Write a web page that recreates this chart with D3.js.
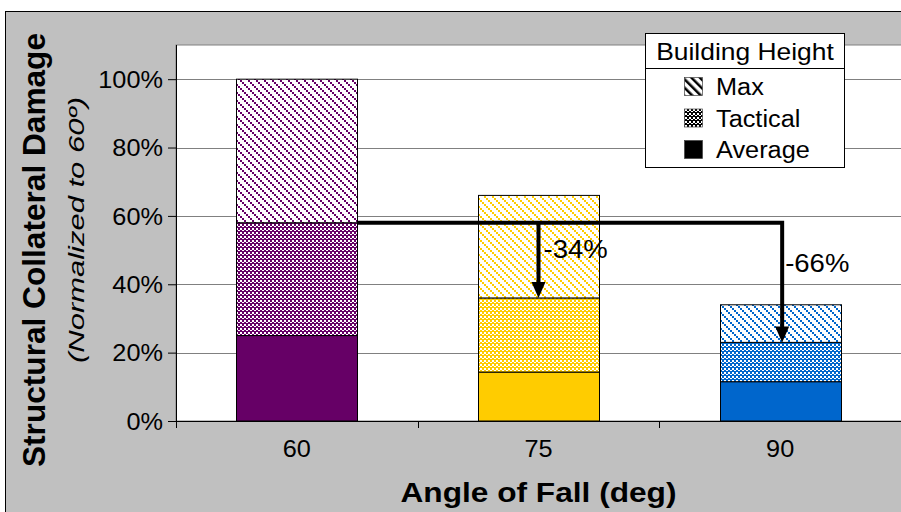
<!DOCTYPE html>
<html>
<head>
<meta charset="utf-8">
<script src="https://cdn.jsdelivr.net/npm/d3@7"></script>
<style>
  html, body { margin: 0; padding: 0; background: #ffffff; }
  svg { display: block; }
  text { font-family: "Liberation Sans", Arial, sans-serif; fill: #000; }
</style>
</head>
<body>
<svg id="chart" width="901" height="512"></svg>
<script>
// Angle of fall categories and stacked damage shares (% of the 60° total)
const angles = ["60", "75", "90"];
const averageVals = [25, 14.3, 11.5];
const tacticalVals = [33, 21.7, 11.5];
const maxVals = [42, 30, 11];
const seriesNames = ["Average", "Tactical", "Max"];
const legendOrder = ["Max", "Tactical", "Average"];
const barColors = ["#660066", "#ffcc00", "#0066cc"];
const yTicks = [0, 20, 40, 60, 80, 100];

const svg = d3.select("#chart");
const W = 901, H = 512;
const plot = { left: 176, right: 901, top: 45, bottom: 421 };

const x = d3.scaleBand().domain(angles)
  .range([plot.left, plot.right]).paddingInner(0.5).paddingOuter(0.25);
const y = d3.scaleLinear().domain([0, 110]).range([plot.bottom, plot.top]);

const stretch = 1.1; // horizontal text widening
function widen(sel, f) {
  sel.each(function () {
    const len = this.getComputedTextLength();
    d3.select(this).attr("textLength", len * f).attr("lengthAdjust", "spacingAndGlyphs");
  });
}

// ---- fill patterns ----
const defs = svg.append("defs");
function maxPattern(id, color) {
  const p = defs.append("pattern").attr("id", id).attr("patternUnits", "userSpaceOnUse")
    .attr("width", 8).attr("height", 8);
  p.append("rect").attr("width", 8).attr("height", 8).attr("fill", "#fff");
  [0, 2, 4, 6].forEach(k => {
    p.append("rect").attr("x", k).attr("y", k).attr("width", 2).attr("height", 2).attr("fill", color);
  });
  [0, 2, 4, 6].forEach(k => {
    p.append("rect").attr("x", (k + 1) % 8).attr("y", k).attr("width", 1).attr("height", 1).attr("fill", color);
  });
}
function tacticalPattern(id, color) {
  const p = defs.append("pattern").attr("id", id).attr("patternUnits", "userSpaceOnUse")
    .attr("width", 4).attr("height", 4);
  p.append("rect").attr("width", 4).attr("height", 4).attr("fill", color);
  p.append("rect").attr("x", 0).attr("y", 0).attr("width", 2).attr("height", 2).attr("fill", "#fff");
  p.append("rect").attr("x", 2).attr("y", 2).attr("width", 2).attr("height", 1).attr("fill", "#fff");
}
barColors.forEach((c, i) => { maxPattern("max" + i, c); tacticalPattern("tac" + i, c); });
// legend swatches (black)
(function () {
  const p = defs.append("pattern").attr("id", "legMax").attr("patternUnits", "userSpaceOnUse")
    .attr("width", 6).attr("height", 6).attr("patternTransform", "rotate(-45)");
  p.append("rect").attr("width", 6).attr("height", 6).attr("fill", "#fff");
  p.append("rect").attr("x", 0).attr("width", 2.5).attr("height", 6).attr("fill", "#000");
})();
tacticalPattern("legTac", "#000");

function fillFor(series, i) {
  if (series === "Average") return barColors[i];
  if (series === "Tactical") return "url(#tac" + i + ")";
  return "url(#max" + i + ")";
}

// ---- chart frame ----
svg.append("rect").attr("x", 5.5).attr("y", 11.5).attr("width", W + 10).attr("height", H + 10)
  .attr("fill", "#c0c0c0").attr("stroke", "#000").attr("stroke-width", 1);
svg.append("rect").attr("x", plot.left).attr("y", plot.top)
  .attr("width", plot.right - plot.left + 5).attr("height", plot.bottom - plot.top)
  .attr("fill", "#fff").attr("stroke", "#808080").attr("stroke-width", 1);

// gridlines
svg.append("g").selectAll("line").data(yTicks.filter(d => d > 0)).join("line")
  .attr("x1", plot.left).attr("x2", plot.right)
  .attr("y1", d => Math.round(y(d)) + 0.5).attr("y2", d => Math.round(y(d)) + 0.5)
  .attr("stroke", "#808080").attr("stroke-width", 1);

// ---- stacked bars ----
const rows = angles.map((a, i) => ({ angle: a, Average: averageVals[i], Tactical: tacticalVals[i], Max: maxVals[i] }));
const stacked = d3.stack().keys(seriesNames)(rows);
const gBars = svg.append("g");
stacked.forEach(layer => {
  gBars.append("g").selectAll("rect").data(layer).join("rect")
    .attr("x", d => Math.round(x(d.data.angle)) + 0.5)
    .attr("width", Math.round(x.bandwidth()))
    .attr("y", d => y(d[1]))
    .attr("height", d => y(d[0]) - y(d[1]))
    .attr("fill", (d, i) => fillFor(layer.key, i))
    .attr("stroke", "#000").attr("stroke-width", 1);
});

// ---- axes ----
const yAxis = d3.axisLeft(y).tickValues(yTicks).tickSize(8).tickFormat(d => d + "%");
const gy = svg.append("g").attr("transform", `translate(${plot.left},0)`).call(yAxis);
gy.select(".domain").attr("d", `M0.5,${plot.top}V${plot.bottom + 0.5}`).attr("stroke", "#000");
gy.selectAll(".tick line").attr("stroke", "#000");
gy.selectAll(".tick text").attr("x", -13).attr("dy", "0.36em")
  .style("font-size", "23px").style("font-family", "Liberation Sans, Arial, sans-serif").attr("fill", "#000");
widen(gy.selectAll(".tick text"), stretch);

const xAxis = d3.axisBottom(x).tickSize(0).tickPadding(0);
const gx = svg.append("g").attr("transform", `translate(0,${plot.bottom})`).call(xAxis);
gx.select(".domain").attr("d", `M${plot.left},0.5H${plot.right}`).attr("stroke", "#000");
gx.selectAll(".tick text").attr("y", 36).attr("dy", 0)
  .style("font-size", "23px").style("font-family", "Liberation Sans, Arial, sans-serif").attr("fill", "#000");
widen(gx.selectAll(".tick text"), stretch);
// category separators
const step = x.step();
gx.append("g").selectAll("line").data(d3.range(angles.length + 1)).join("line")
  .attr("x1", k => Math.round(plot.left + k * step) + 0.5)
  .attr("x2", k => Math.round(plot.left + k * step) + 0.5)
  .attr("y1", 0).attr("y2", 7).attr("stroke", "#000");

// ---- axis titles ----
svg.append("text").attr("transform", "translate(45,250) rotate(-90)")
  .attr("text-anchor", "middle").style("font-size", "31.5px").style("font-weight", "bold")
  .attr("textLength", 434).attr("lengthAdjust", "spacingAndGlyphs")
  .text("Structural Collateral Damage");
svg.append("text").attr("transform", "translate(84,230) rotate(-90)")
  .attr("text-anchor", "middle").style("font-size", "22px").style("font-style", "italic")
  .attr("textLength", 266).attr("lengthAdjust", "spacingAndGlyphs")
  .text("(Normalized to 60º)");
const xt = svg.append("text").attr("x", (plot.left + plot.right) / 2).attr("y", 502)
  .attr("text-anchor", "middle").style("font-size", "28px").style("font-weight", "bold")
  .text("Angle of Fall (deg)");
widen(xt, 1.13);

// ---- reduction arrows (from the 60° Average+Tactical level) ----
const baseTop = averageVals[0] + tacticalVals[0];
const totals = angles.map((a, i) => averageVals[i] + tacticalVals[i] + maxVals[i]);
const targets = [1, 2].map(i => ({
  i, xc: x(angles[i]) + x.bandwidth() / 2,
  tip: averageVals[i] + tacticalVals[i],
  label: "-" + Math.round(totals[0] - totals[i]) + "%"
}));
const arrowG = svg.append("g");
const yBase = y(baseTop);
const xStart = x(angles[0]) + x.bandwidth();
const last = targets[targets.length - 1];
arrowG.append("path")
  .attr("d", `M${xStart},${yBase}H${last.xc + 2}V${y(last.tip) - 14}`)
  .attr("fill", "none").attr("stroke", "#000").attr("stroke-width", 4).attr("stroke-linejoin", "miter");
targets.forEach(t => {
  if (t !== last) {
    arrowG.append("line").attr("x1", t.xc).attr("x2", t.xc)
      .attr("y1", yBase).attr("y2", y(t.tip) - 14)
      .attr("stroke", "#000").attr("stroke-width", 4);
  }
  const xc = t === last ? t.xc + 2 : t.xc;
  const yt = y(t.tip);
  arrowG.append("path")
    .attr("d", `M${xc - 7},${yt - 16}L${xc + 7},${yt - 16}L${xc},${yt}Z`)
    .attr("fill", "#000");
});
const labelOffsets = [{ dx: 5, dy: 35 }, { dx: 5, dy: 49 }];
targets.forEach((t, k) => {
  const lt = svg.append("text").attr("x", t.xc + labelOffsets[k].dx).attr("y", yBase + labelOffsets[k].dy)
    .style("font-size", "25px").text(t.label);
  widen(lt, stretch);
});

// ---- legend ----
const lg = svg.append("g").attr("transform", "translate(645,33)");
lg.append("rect").attr("x", 0.5).attr("y", 0.5).attr("width", 199).attr("height", 134)
  .attr("fill", "#fff").attr("stroke", "#000");
lg.append("line").attr("x1", 0).attr("x2", 200).attr("y1", 35.5).attr("y2", 35.5).attr("stroke", "#000");
const lt0 = lg.append("text").attr("x", 100).attr("y", 27).attr("text-anchor", "middle")
  .style("font-size", "24px").text("Building Height");
widen(lt0, stretch);
const legFill = { Max: "url(#legMax)", Tactical: "url(#legTac)", Average: "#000" };
legendOrder.forEach((name, k) => {
  const yy = 44 + k * 31.5;
  lg.append("rect").attr("x", 39.5).attr("y", yy + 0.5).attr("width", 18).attr("height", 18)
    .attr("fill", legFill[name]).attr("stroke", "#404040").attr("stroke-width", 0.7);
  const t = lg.append("text").attr("x", 71).attr("y", yy + 18).style("font-size", "23px").text(name);
  widen(t, stretch);
});
</script>
</body>
</html>
